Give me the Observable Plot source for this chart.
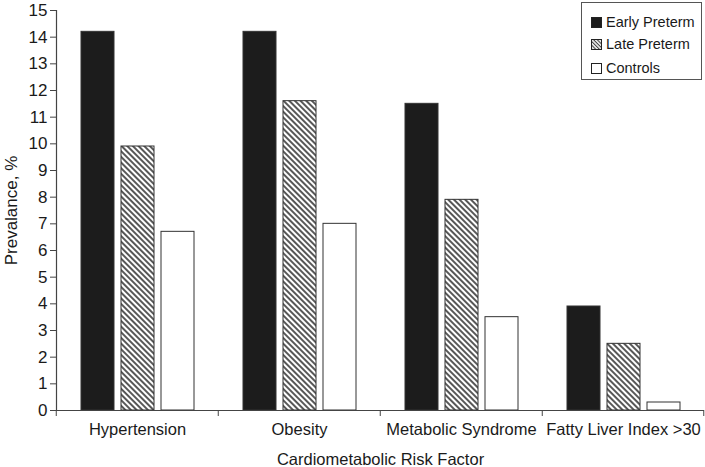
<!DOCTYPE html>
<html>
<head>
<meta charset="utf-8">
<script src="https://cdn.jsdelivr.net/npm/d3@7"></script>
<script src="https://cdn.jsdelivr.net/npm/@observablehq/plot@0.6"></script>
<style>
  html, body { margin: 0; padding: 0; background: #fff; }
  #wrap { position: relative; width: 705px; height: 467px; font-family: "Liberation Sans", Arial, sans-serif; }
  #legend { position: absolute; left: 581px; top: 2px; width: 121px; height: 78px; border: 1px solid #555; background: #fff; box-sizing: border-box; font-size: 14.5px; color: #1a1a1a; }
  #legend .item { position: absolute; left: 9px; height: 16px; display: flex; align-items: center; white-space: nowrap; }
  #legend svg { margin-right: 4px; }
</style>
</head>
<body>
<div id="wrap"></div>
<script>
const categories = ["Hypertension", "Obesity", "Metabolic Syndrome", "Fatty Liver Index >30"];
const groups = ["Early Preterm", "Late Preterm", "Controls"];
const earlyPreterm = [14.2, 14.2, 11.5, 3.9];
const latePreterm = [9.9, 11.6, 7.9, 2.5];
const controls = [6.7, 7.0, 3.5, 0.3];
const yTicks = [0, 1, 2, 3, 4, 5, 6, 7, 8, 9, 10, 11, 12, 13, 14, 15];
const groupFills = ["#1c1c1c", "url(#hatch)", "#ffffff"];

const series = [earlyPreterm, latePreterm, controls];
const data = categories.flatMap((c, i) => groups.map((g, j) => ({category: c, group: g, value: series[j][i]})));

const W = 705, ML = 55, MR = 0;
const step = (W - ML - MR) / categories.length;

const plot = Plot.plot({
  width: W, height: 467,
  marginLeft: ML, marginRight: MR, marginTop: 10, marginBottom: 57,
  style: {fontFamily: "'Liberation Sans', Arial, sans-serif", fontSize: "16.5px", color: "#1a1a1a", background: "#fff"},
  fx: {domain: categories, paddingInner: 0, paddingOuter: 0, label: null},
  x: {domain: groups, paddingInner: 0.175, paddingOuter: 0.61, axis: null},
  y: {domain: [0, 15]},
  color: {type: "ordinal", domain: groups, range: groupFills},
  marks: [
    Plot.barY(data, {fx: "category", x: "group", y: "value", fill: "group", stroke: "#333", strokeWidth: 1}),
    Plot.ruleY([0], {stroke: "#444", strokeWidth: 1.2}),
    Plot.frame({anchor: "left", facetAnchor: "left", stroke: "#444", strokeWidth: 1.2}),
    Plot.axisY({ticks: yTicks, tickSize: 6, tickPadding: 3, stroke: "#444", fontSize: 17, label: "Prevalance, %", labelAnchor: "center", labelArrow: "none", labelOffset: 52}),
    Plot.axisFx({anchor: "bottom", tickSize: 0, tickPadding: 13, label: "Cardiometabolic Risk Factor", labelAnchor: "center", labelArrow: "none", labelOffset: 54}),
    Plot.axisFx({anchor: "bottom", tickSize: 6, text: null, label: null, dx: -step / 2, stroke: "#444"}),
    Plot.axisFx({anchor: "bottom", ticks: [categories[categories.length - 1]], tickSize: 6, text: null, label: null, dx: step / 2 - 1, stroke: "#444"})
  ]
});

// hatch pattern definition
const svgNS = "http://www.w3.org/2000/svg";
const defs = document.createElementNS(svgNS, "defs");
defs.innerHTML = `
  <pattern id="hatch" width="4" height="4" patternUnits="userSpaceOnUse" patternTransform="rotate(45)">
    <rect width="4" height="4" fill="#fff"/>
    <line x1="0" y1="2" x2="4" y2="2" stroke="#3a3a3a" stroke-width="1.7"/>
  </pattern>
  <pattern id="hatchSmall" width="2.6" height="2.6" patternUnits="userSpaceOnUse" patternTransform="rotate(45)">
    <rect width="2.6" height="2.6" fill="#fff"/>
    <line x1="0" y1="1.3" x2="2.6" y2="1.3" stroke="#3a3a3a" stroke-width="1.1"/>
  </pattern>`;
plot.insertBefore(defs, plot.firstChild);

const wrap = document.getElementById("wrap");
wrap.appendChild(plot);

// legend
const legend = document.createElement("div");
legend.id = "legend";
const legendFills = ["#1c1c1c", "url(#hatchSmall)", "#ffffff"];
const rowTops = [11, 33, 57];
groups.forEach((g, i) => {
  const item = document.createElement("div");
  item.className = "item";
  item.style.top = rowTops[i] + "px";
  item.innerHTML = `<svg width="11" height="11"><rect x="0.5" y="0.5" width="10" height="10" fill="${legendFills[i]}" stroke="#222" stroke-width="1"/></svg><span>${g}</span>`;
  legend.appendChild(item);
});
wrap.appendChild(legend);
</script>
</body>
</html>
